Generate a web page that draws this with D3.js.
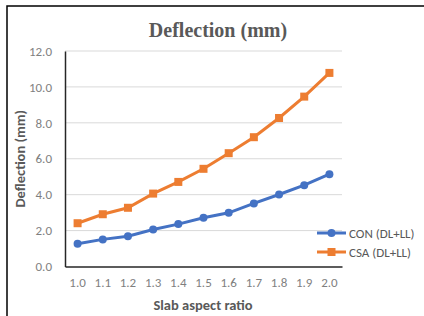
<!DOCTYPE html>
<html>
<head>
<meta charset="utf-8">
<script src="https://cdn.jsdelivr.net/npm/d3@7"></script>
<style>
  body { margin: 0; background: #fff; }
  svg { display: block; }
</style>
</head>
<body>
<svg id="chart" width="424" height="316"></svg>
<script>
// data
const ratios = ["1.0", "1.1", "1.2", "1.3", "1.4", "1.5", "1.6", "1.7", "1.8", "1.9", "2.0"];
const conVals = [1.27, 1.51, 1.69, 2.06, 2.36, 2.71, 2.99, 3.51, 4.01, 4.53, 5.14];
const csaVals = [2.41, 2.91, 3.27, 4.06, 4.71, 5.44, 6.31, 7.2, 8.27, 9.46, 10.78];
const yTicks = [0, 2, 4, 6, 8, 10, 12];
const seriesNames = ["CON (DL+LL)", "CSA (DL+LL)"];

const svg = d3.select("#chart");
const plotLeft = 65, plotRight = 342, plotTop = 51, plotBottom = 266.5;
const sansFont = "Calibri, Carlito, 'Liberation Sans', sans-serif";

// outer frame (right/bottom edges fall outside the picture)
svg.append("rect")
    .attr("x", 7).attr("y", 6)
    .attr("width", 430).attr("height", 320)
    .attr("fill", "none")
    .attr("stroke", "#000")
    .attr("stroke-width", 1.5);

const x = d3.scaleBand().domain(ratios).range([plotLeft, plotRight]);
const y = d3.scaleLinear().domain([0, 12]).range([plotBottom, plotTop]);

// gridlines
svg.append("g")
    .selectAll("line")
    .data(yTicks.filter(d => d > 0))
    .enter().append("line")
    .attr("x1", plotLeft).attr("x2", plotRight)
    .attr("y1", d => y(d)).attr("y2", d => y(d))
    .attr("stroke", "#d9d9d9")
    .attr("stroke-width", 1);

// y axis
const yAxis = svg.append("g")
    .attr("transform", "translate(" + plotLeft + ",0)")
    .call(d3.axisLeft(y).tickValues(yTicks).tickFormat(d3.format(".1f")).tickSize(0).tickPadding(13));
yAxis.select(".domain").attr("stroke", "#262626").attr("stroke-width", 1.5);
yAxis.selectAll("text")
    .attr("fill", "#7f7f7f")
    .style("font-family", sansFont)
    .style("font-size", "13px");

// x axis
const xAxis = svg.append("g")
    .attr("transform", "translate(0," + plotBottom + ")")
    .call(d3.axisBottom(x).tickSize(0).tickPadding(11));
xAxis.select(".domain").attr("stroke", "#262626").attr("stroke-width", 1.5);
xAxis.selectAll("text")
    .attr("fill", "#7f7f7f")
    .style("font-family", sansFont)
    .style("font-size", "13px");

const cx = d => x(d) + x.bandwidth() / 2;
const line = d3.line()
    .x((d, i) => cx(ratios[i]))
    .y(d => y(d));

// CON series
svg.append("path")
    .datum(conVals)
    .attr("d", line)
    .attr("fill", "none")
    .attr("stroke", "#4472c4")
    .attr("stroke-width", 3);
svg.append("g")
    .selectAll("circle")
    .data(conVals)
    .enter().append("circle")
    .attr("cx", (d, i) => cx(ratios[i]))
    .attr("cy", d => y(d))
    .attr("r", 4)
    .attr("fill", "#4472c4");

// CSA series
svg.append("path")
    .datum(csaVals)
    .attr("d", line)
    .attr("fill", "none")
    .attr("stroke", "#ed7d31")
    .attr("stroke-width", 3);
svg.append("g")
    .selectAll("rect")
    .data(csaVals)
    .enter().append("rect")
    .attr("x", (d, i) => cx(ratios[i]) - 4)
    .attr("y", d => y(d) - 4)
    .attr("width", 8).attr("height", 8)
    .attr("fill", "#ed7d31");

// title
svg.append("text")
    .attr("x", 218).attr("y", 37)
    .attr("text-anchor", "middle")
    .attr("fill", "#595959")
    .style("font-family", "'Liberation Serif', 'Times New Roman', serif")
    .style("font-weight", "bold")
    .style("font-size", "20px")
    .text("Deflection (mm)");

// axis titles
svg.append("text")
    .attr("transform", "translate(25," + ((plotTop + plotBottom) / 2) + ")rotate(-90)")
    .attr("text-anchor", "middle")
    .attr("fill", "#595959")
    .style("font-family", sansFont)
    .style("font-weight", "bold")
    .style("font-size", "14.5px")
    .text("Deflection (mm)");

svg.append("text")
    .attr("x", 203).attr("y", 310)
    .attr("text-anchor", "middle")
    .attr("fill", "#595959")
    .style("font-family", sansFont)
    .style("font-weight", "bold")
    .style("font-size", "14.5px")
    .text("Slab aspect ratio");

// legend
const legColors = ["#4472c4", "#ed7d31"];
const leg = svg.append("g")
    .selectAll("g")
    .data(seriesNames)
    .enter().append("g")
    .attr("transform", (d, i) => "translate(317," + (233 + i * 19) + ")");
leg.append("line")
    .attr("x1", 0).attr("x2", 29)
    .attr("stroke", (d, i) => legColors[i])
    .attr("stroke-width", 3);
leg.each(function (d, i) {
    const g = d3.select(this);
    if (i === 0) {
        g.append("circle").attr("cx", 14.5).attr("r", 4).attr("fill", legColors[i]);
    } else {
        g.append("rect").attr("x", 10.5).attr("y", -4).attr("width", 8).attr("height", 8).attr("fill", legColors[i]);
    }
});
leg.append("text")
    .attr("x", 32).attr("dy", "0.35em")
    .attr("fill", "#595959")
    .style("font-family", sansFont)
    .style("font-size", "13px")
    .text(d => d);
</script>
</body>
</html>
